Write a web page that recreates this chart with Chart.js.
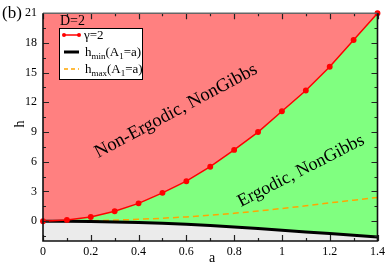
<!DOCTYPE html>
<html>
<head>
<meta charset="utf-8">
<script src="https://cdn.jsdelivr.net/npm/chart.js@4"></script>
<style>
  html, body { margin: 0; padding: 0; background: #fff; }
  canvas { display: block; }
</style>
</head>
<body>
<canvas id="js-canvas-phase" width="389" height="265"></canvas>
<script>
const aVals = [0, 0.1, 0.2, 0.3, 0.4, 0.5, 0.6, 0.7, 0.8, 0.9, 1.0, 1.1, 1.2, 1.3, 1.4];
const gammaTwo = [0, 0.13, 0.42, 1.0, 1.8, 2.86, 4.04, 5.5, 7.2, 9.0, 11.1, 13.2, 15.6, 18.3, 21.0];
const hMin = [0, -0.01, -0.03, -0.07, -0.13, -0.21, -0.32, -0.44, -0.58, -0.74, -0.91, -1.08, -1.25, -1.42, -1.6];
const hMax = [0, 0.01, 0.05, 0.11, 0.19, 0.3, 0.43, 0.6, 0.8, 1.03, 1.28, 1.55, 1.85, 2.12, 2.4];
const xTicks = [0, 0.1, 0.2, 0.3, 0.4, 0.5, 0.6, 0.7, 0.8, 0.9, 1.0, 1.1, 1.2, 1.3, 1.4];
const yTicks = [-1.5, 0, 1.5, 3, 4.5, 6, 7.5, 9, 10.5, 12, 13.5, 15, 16.5, 18, 19.5, 21];

const SERIF = '"Liberation Serif", "DejaVu Serif", serif';
const pts = (ys) => aVals.map((a, i) => ({ x: a, y: ys[i] }));

const isMajorX = (v) => Math.round(v * 10) % 2 === 0;
const isMajorY = (v) => Math.round(v * 10) % 30 === 0;

// ticks pointing inward on all four sides, plus frame and annotations
const decorPlugin = {
  id: 'decor',
  afterDraw(chart) {
    const { ctx, chartArea: ca } = chart;
    const xs = chart.scales.x, ys = chart.scales.y;
    ctx.save();
    ctx.strokeStyle = '#222';
    ctx.lineWidth = 1.2;
    ctx.beginPath();
    xTicks.forEach(v => {
      const px = Math.round(xs.getPixelForValue(v)) + 0.5;
      const len = isMajorX(v) ? 6 : 3;
      ctx.moveTo(px, ca.bottom); ctx.lineTo(px, ca.bottom - len);
      ctx.moveTo(px, ca.top); ctx.lineTo(px, ca.top + len);
    });
    yTicks.forEach(v => {
      const py = Math.round(ys.getPixelForValue(v)) + 0.5;
      const len = isMajorY(v) ? 6 : 3;
      ctx.moveTo(ca.left, py); ctx.lineTo(ca.left + len, py);
      ctx.moveTo(ca.right, py); ctx.lineTo(ca.right - len, py);
    });
    ctx.stroke();

    ctx.lineWidth = 1.6;
    ctx.strokeStyle = '#666';
    ctx.beginPath();
    ctx.moveTo(ca.left, ca.top); ctx.lineTo(ca.right, ca.top);
    ctx.stroke();
    ctx.strokeStyle = '#111';
    ctx.beginPath();
    ctx.moveTo(ca.right, ca.top); ctx.lineTo(ca.right, ca.bottom);
    ctx.lineTo(ca.left, ca.bottom); ctx.lineTo(ca.left, ca.top);
    ctx.stroke();

    // texts
    ctx.fillStyle = '#000';
    ctx.textBaseline = 'alphabetic';
    ctx.font = '17px ' + SERIF;
    ctx.textAlign = 'left';
    ctx.fillText('(b)', 2, 18);
    ctx.font = '14px ' + SERIF;
    ctx.fillText('D=2', 60, 25);

    ctx.font = '14px ' + SERIF;
    ctx.textAlign = 'center';
    ctx.fillText('a', 212, 262);
    ctx.save();
    ctx.translate(24, 124);
    ctx.rotate(-Math.PI / 2);
    ctx.fillText('h', 0, 0);
    ctx.restore();

    ctx.textBaseline = 'middle';
    ctx.font = '18.5px ' + SERIF;
    ctx.save();
    ctx.translate(176, 111);
    ctx.rotate(-28 * Math.PI / 180);
    ctx.fillText('Non-Ergodic, NonGibbs', 0, 0);
    ctx.restore();
    ctx.font = '18px ' + SERIF;
    ctx.save();
    ctx.translate(301, 171);
    ctx.rotate(-27 * Math.PI / 180);
    ctx.fillText('Ergodic, NonGibbs', 0, 0);
    ctx.restore();

    // legend box
    ctx.fillStyle = '#fff';
    ctx.fillRect(59.5, 28.5, 83, 51);
    ctx.strokeStyle = '#000';
    ctx.lineWidth = 1;
    ctx.strokeRect(59.5, 28.5, 83, 51);

    ctx.strokeStyle = '#f00';
    ctx.lineWidth = 1.5;
    ctx.beginPath(); ctx.moveTo(64, 35); ctx.lineTo(79, 35); ctx.stroke();
    ctx.fillStyle = '#f00';
    [64, 79].forEach(x => { ctx.beginPath(); ctx.arc(x, 35, 2, 0, Math.PI * 2); ctx.fill(); });

    ctx.strokeStyle = '#000';
    ctx.lineWidth = 3;
    ctx.beginPath(); ctx.moveTo(64, 52); ctx.lineTo(79, 52); ctx.stroke();

    ctx.strokeStyle = '#ffa500';
    ctx.lineWidth = 1.5;
    ctx.setLineDash([4, 3]);
    ctx.beginPath(); ctx.moveTo(64, 69); ctx.lineTo(79, 69); ctx.stroke();
    ctx.setLineDash([]);

    ctx.fillStyle = '#000';
    ctx.textAlign = 'left';
    ctx.textBaseline = 'alphabetic';
    ctx.font = '13px ' + SERIF;
    ctx.fillText('\u03b3=2', 84, 39);

    const subLabel = (y, sub) => {
      let x = 85;
      const part = (t, size, dy) => {
        ctx.font = size + 'px ' + SERIF;
        ctx.fillText(t, x, y + dy);
        x += ctx.measureText(t).width;
      };
      part('h', 13, 0);
      part(sub, 9, 3);
      part('(A', 13, 0);
      part('1', 9, 3);
      part('=a)', 13, 0);
    };
    subLabel(56, 'min');
    subLabel(73, 'max');
    ctx.restore();
  }
};

const ctx = document.getElementById('js-canvas-phase');
const phaseChart = new Chart(ctx, {
  type: 'line',
  data: {
    datasets: [
      {
        label: '\u03b3=2',
        data: pts(gammaTwo),
        borderColor: '#f00',
        backgroundColor: '#ff8080',
        pointBackgroundColor: '#f00',
        pointBorderColor: '#f00',
        pointRadius: 2.2,
        borderWidth: 1.5,
        clip: 4,
        fill: 'end'
      },
      {
        label: 'h_min(A_1=a)',
        data: pts(hMin),
        borderColor: '#000',
        backgroundColor: '#80ff80',
        borderWidth: 3,
        pointRadius: 0,
        fill: { target: 0, above: '#80ff80', below: '#80ff80' }
      },
      {
        label: 'h_max(A_1=a)',
        data: pts(hMax),
        borderColor: '#ffa500',
        borderWidth: 1.5,
        borderDash: [6, 4],
        pointRadius: 0,
        fill: false
      },
      {
        label: 'below',
        data: pts(hMin),
        borderWidth: 0,
        borderColor: 'rgba(0,0,0,0)',
        backgroundColor: '#ebebeb',
        pointRadius: 0,
        fill: 'start'
      }
    ]
  },
  options: {
    responsive: false,
    animation: false,
    layout: { padding: { top: 7, right: 9, left: 0, bottom: 0 } },
    plugins: {
      legend: { display: false },
      tooltip: { enabled: false },
      filler: { drawTime: 'beforeDatasetsDraw' }
    },
    scales: {
      x: {
        type: 'linear',
        min: 0,
        max: 1.4,
        z: 1,
        afterFit: (s) => { s.height = 24; },
        afterBuildTicks: (s) => { s.ticks = xTicks.map(v => ({ value: v })); },
        grid: { color: 'rgba(0,0,0,0.35)', drawTicks: false, lineWidth: 1 },
        border: { display: false, dash: [1, 8] },
        ticks: {
          padding: 4,
          autoSkip: false,
          maxRotation: 0,
          color: '#000',
          font: { family: SERIF, size: 12 },
          callback: (v) => isMajorX(v) ? String(Math.round(v * 10) / 10) : ''
        }
      },
      y: {
        type: 'linear',
        min: -2,
        max: 21,
        z: 1,
        afterFit: (s) => { s.width = 43; },
        afterBuildTicks: (s) => { s.ticks = yTicks.map(v => ({ value: v })); },
        grid: { color: 'rgba(0,0,0,0.35)', drawTicks: false, lineWidth: 1 },
        border: { display: false, dash: [1, 8] },
        ticks: {
          padding: 6,
          autoSkip: false,
          color: '#000',
          font: { family: SERIF, size: 12 },
          callback: (v) => isMajorY(v) ? String(v) : ''
        }
      }
    }
  },
  plugins: [decorPlugin]
});
</script>
</body>
</html>
